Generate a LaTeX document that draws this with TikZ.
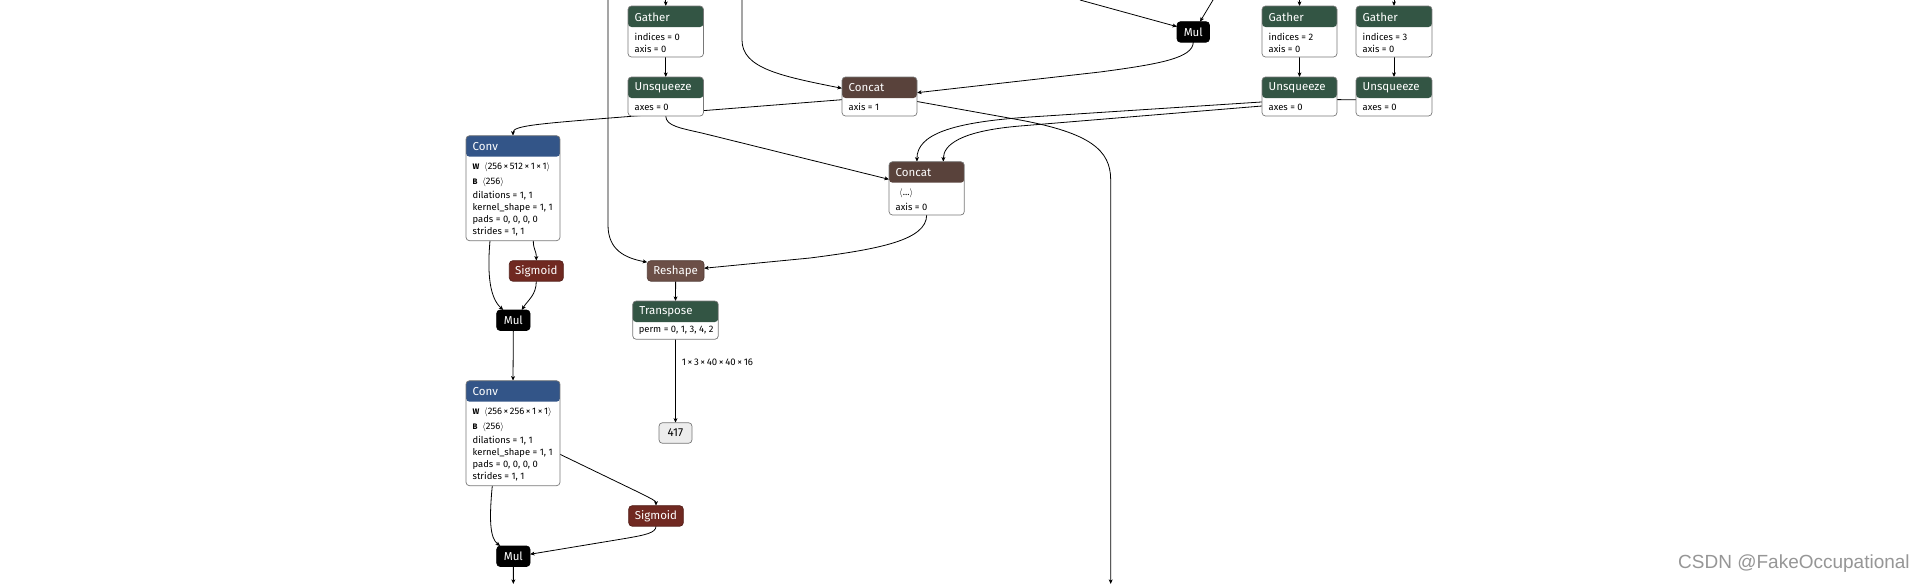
\documentclass[tikz,border=0pt]{standalone}
\usepackage{fontspec}
\setmainfont{Fira Sans}
\newfontfamily\wmfont{Liberation Sans}
\usetikzlibrary{arrows.meta, calc, backgrounds}
\definecolor{convblue}{RGB}{51,85,136}
\definecolor{shapegreen}{RGB}{51,85,68}
\definecolor{catbrown}{RGB}{89,66,59}
\definecolor{reshbrown}{RGB}{108,79,71}
\definecolor{sigred}{RGB}{112,41,33}
\definecolor{boxgray}{RGB}{120,120,120}
\definecolor{wmgray}{RGB}{150,150,150}
\newcommand{\hfont}{\fontsize{11.5}{13}\selectfont}
\newcommand{\bfont}{\fontsize{9.4}{11}\selectfont}

\begin{document}
\begin{tikzpicture}[x=1pt, y=-1pt,
		opbox/.style={draw=boxgray, line width=0.7pt, rounded corners=3.5pt, fill=white, anchor=north west, inner sep=0pt, outer sep=0pt},
		hdr/.style={path picture={\fill[#1] (path picture bounding box.north west) rectangle ([yshift=-21pt]path picture bounding box.north east);}},
		solo/.style={fill=#1, draw=#1!75!black, line width=0.7pt, rounded corners=3.5pt, text=white, font=\hfont, anchor=north west, inner sep=0pt, outer sep=0pt, minimum height=20.5pt},
		outbox/.style={fill=black!7, draw=boxgray, line width=0.7pt, rounded corners=3.5pt, font=\hfont, anchor=north west, inner sep=0pt, outer sep=0pt, minimum height=20.6pt},
		htxt/.style={anchor=west, inner sep=0pt, text=white, font=\hfont},
		btxt/.style={anchor=west, inner sep=0pt, font=\bfont},
		wire/.style={line width=0.8pt, -{Stealth[length=4.5pt, width=3.8pt, inset=1pt]}},
		]
		\useasboundingbox (0,0) rectangle (1920,584);
		
		% shape branch
		\foreach \nm/\x/\w/\k in {g0/628/75.5/0, g2/1262/75/2, g3/1356/76/3} {
			\node[opbox, hdr=shapegreen, minimum width=\w pt, minimum height=51pt] (\nm) at (\x,6) {};
			\node[htxt] (\nm-t) at ([xshift=6.5pt,yshift=-10.8pt]\nm.north west) {Gather};
			\node[btxt] (\nm-a) at ([xshift=6.5pt,yshift=-30.7pt]\nm.north west) {indices = \k};
			\node[btxt] (\nm-b) at ([xshift=6.5pt,yshift=-42.7pt]\nm.north west) {axis = 0};
		}
		\foreach \nm/\x/\w in {u0/628/75.5, u2/1262/75, u3/1356/76} {
			\node[opbox, hdr=shapegreen, minimum width=\w pt, minimum height=39pt] (\nm) at (\x,77) {};
			\node[htxt] (\nm-t) at ([xshift=6.5pt,yshift=-10.8pt]\nm.north west) {Unsqueeze};
			\node[btxt] (\nm-a) at ([xshift=6.5pt,yshift=-30pt]\nm.north west) {axes = 0};
		}
		
		\node[opbox, hdr=catbrown, minimum width=75pt, minimum height=39pt] (cat1) at (842,77) {};
		\node[htxt] (cat1-t) at ([xshift=6.5pt,yshift=-10.8pt]cat1.north west) {Concat};
		\node[btxt] (cat1-a) at ([xshift=6.5pt,yshift=-30pt]cat1.north west) {axis = 1};
		
		\node[opbox, hdr=catbrown, minimum width=75.3pt, minimum height=53.3pt] (cat2) at (889,161.7) {};
		\node[htxt] (cat2-t) at ([xshift=6.5pt,yshift=-10.8pt]cat2.north west) {Concat};
		\node[btxt] (cat2-a) at ([xshift=10pt,yshift=-32pt]cat2.north west) {$\langle$...$\rangle$};
		\node[btxt] (cat2-b) at ([xshift=6.5pt,yshift=-45pt]cat2.north west) {axis = 0};
		
		\node[solo=black, minimum width=32.5pt] (mul0) at (1177,21.7) {Mul};
		
		% conv blocks
		\foreach \nm/\y/\chans in {conv1/135.7/512, conv2/380.7/256} {
			\node[opbox, hdr=convblue, minimum width=94pt, minimum height=105pt] (\nm) at (466,\y) {};
			\node[htxt] (\nm-t) at ([xshift=6.5pt,yshift=-10.8pt]\nm.north west) {Conv};
			\node[btxt] (\nm-w) at ([xshift=6.5pt,yshift=-32pt]\nm.north west) {{\fontsize{8}{9}\selectfont\bfseries W}\enspace$\langle$256\,×\,\chans\,×\,1\,×\,1$\rangle$};
			\node[btxt] (\nm-b) at ([xshift=6.5pt,yshift=-47pt]\nm.north west) {{\fontsize{8}{9}\selectfont\bfseries B}\enspace$\langle$256$\rangle$};
			\node[btxt] (\nm-d) at ([xshift=6.5pt,yshift=-59.6pt]\nm.north west) {dilations = 1, 1};
			\node[btxt] (\nm-k) at ([xshift=6.5pt,yshift=-71.8pt]\nm.north west) {kernel\_shape = 1, 1};
			\node[btxt] (\nm-p) at ([xshift=6.5pt,yshift=-84.3pt]\nm.north west) {pads = 0, 0, 0, 0};
			\node[btxt] (\nm-s) at ([xshift=6.5pt,yshift=-96pt]\nm.north west) {strides = 1, 1};
		}
		\node[solo=sigred, minimum width=54pt] (sig1) at (509.3,260.7) {Sigmoid};
		\node[solo=black, minimum width=33.3pt] (mul1) at (496.7,310) {Mul};
		\node[solo=sigred, minimum width=54.6pt] (sig2) at (628.7,505.7) {Sigmoid};
		\node[solo=black, minimum width=33.3pt] (mul2) at (496.7,546) {Mul};
		
		% head
		\node[solo=reshbrown, minimum width=56.7pt] (resh) at (647.3,260.7) {Reshape};
		\node[opbox, hdr=shapegreen, minimum width=85.6pt, minimum height=38.3pt] (tr) at (632.7,301) {};
		\node[htxt] (tr-t) at ([xshift=6.5pt,yshift=-10.8pt]tr.north west) {Transpose};
		\node[btxt] (tr-a) at ([xshift=6pt,yshift=-29.7pt]tr.north west) {perm = 0, 1, 3, 4, 2};
		\node[outbox, minimum width=33pt] (out417) at (659,422.7) {417};
		
		\node[anchor=west, inner sep=0pt, text=wmgray, font=\wmfont\fontsize{19}{22}\selectfont] (wm) at (1678,564) {CSDN @FakeOccupational};
		
		\coordinate (inA) at (608,0);
		\coordinate (inB) at (665.75,0);
		\coordinate (inC) at (742,0);
		\coordinate (inD) at (1080,0);
		\coordinate (inE) at (1213,0);
		\coordinate (inF) at (1299.5,0);
		\coordinate (inG) at (1394,0);
		\coordinate (outA) at (1110.7,584);
		\coordinate (outB) at (513.35,584);
		
		\begin{scope}[on background layer]
			\fill[white] (0,0) rectangle (1920,584);
			\draw[wire] (inA) -- (608,225) .. controls (608,250) and (625,258) .. ([yshift=-1.5pt]resh.north west);
			\draw[wire] (inB) -- (g0.north);
			\draw[wire] (g0.south) -- (u0.north);
			\draw[wire] (inC) -- (742,40) .. controls (742,68) and (780,76) .. ([yshift=8.2pt]cat1.west);
			\draw[wire] ([yshift=-3.2pt]cat1.west) -- (610,118) .. controls (535,124) and (513,126) .. (conv1.north);
			\draw[wire] (u0.south) .. controls (666,126) and (680,128) .. (703,133.3) -- ([yshift=9pt]cat2.west);
			\draw[wire] (inD) -- ([yshift=5.3pt]mul0.west);
			\draw[wire] (inE) -- ([xshift=6.75pt]mul0.north);
			\draw[wire] (mul0.south) .. controls (1193,58) and (1160,64) .. (1100,72) -- ([yshift=3.8pt]cat1.east);
			\draw[wire] ([yshift=-5pt]cat1.east) -- (1020,120) .. controls (1090,133) and (1110.7,150) .. (1110.7,180) -- (outA);
			\draw[wire] (inF) -- (g2.north);
			\draw[wire] (inG) -- (g3.north);
			\draw[wire] (g2.south) -- (u2.north);
			\draw[wire] (g3.south) -- (u3.north);
			\draw[wire] ([yshift=-3.2pt]u3.west) -- (1300,99.5) -- (1030,117) .. controls (950,122.2) and (916.95,135) .. ([xshift=-9.7pt]cat2.north);
			\draw[wire] ([yshift=-9.5pt]u2.west) -- (1020,126) .. controls (960,131) and (943.35,145) .. ([xshift=16.7pt]cat2.north);
			\draw[wire] (cat2.south) .. controls (926.65,240) and (880,249) .. (810,258) -- ([yshift=2.7pt]resh.east);
			\draw[wire] (resh.south) -- (tr.north);
			\draw[wire] (tr.south) -- node[pos=0.27, anchor=west, xshift=6pt, inner sep=0pt, font=\fontsize{9.6}{11}\selectfont] (dimlbl) {1\,×\,3\,×\,40\,×\,40\,×\,16} (out417.north);
			% conv / sigmoid / mul
			\draw[wire] ([xshift=20.3pt]conv1.south) .. controls (533.3,250) and (536.3,250) .. (sig1.north);
			\draw[wire] ([xshift=-23pt]conv1.south) .. controls (487,275) and (490,298) .. ([xshift=6.6pt]mul1.north west);
			\draw[wire] (sig1.south) .. controls (536.3,295) and (528,300) .. ([xshift=-8.3pt]mul1.north east);
			\draw[wire] (mul1.south) -- (conv2.north);
			\draw[wire] ([yshift=-21.1pt]conv2.east) -- (638,492) .. controls (652,499) and (656,501) .. (sig2.north);
			\draw[wire] ([xshift=-20.7pt]conv2.south) .. controls (489,520) and (490,538) .. ([xshift=3.5pt]mul2.north west);
			\draw[wire] (sig2.south) .. controls (656,533) and (645,535) .. (625,538.5) -- ([yshift=2pt]mul2.east);
			\draw[wire] (mul2.south) -- (outB);
		\end{scope}
\end{tikzpicture}
\end{document}
